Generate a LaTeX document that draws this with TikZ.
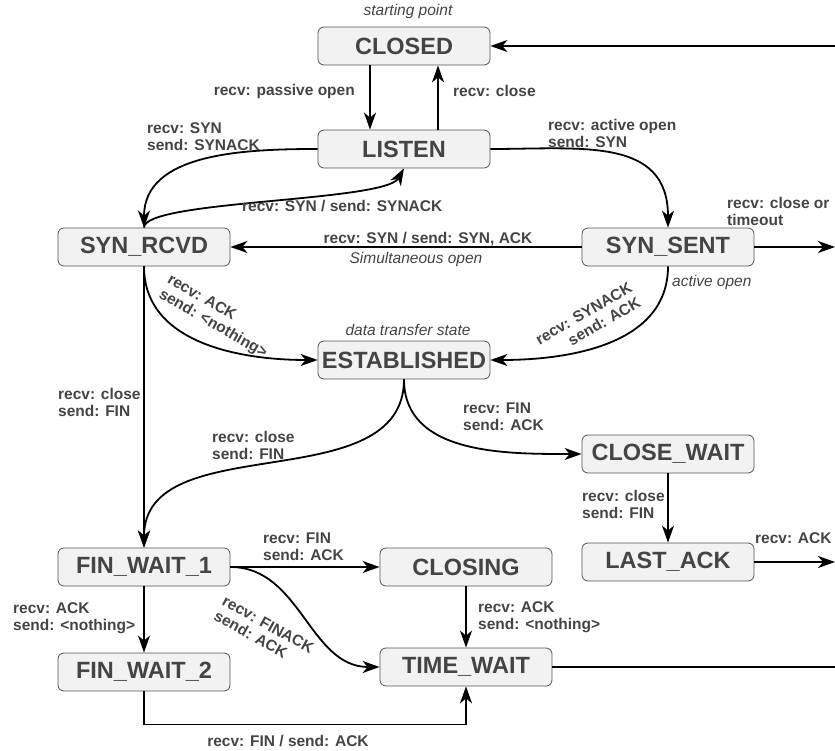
\documentclass[tikz,border=0pt]{standalone}
\usepackage{fontspec}
\setmainfont{Liberation Sans}
\usepackage{tikz}
\usetikzlibrary{arrows.meta}
\usepackage{xcolor}
\definecolor{txtgray}{HTML}{444444}
\definecolor{boxfill}{HTML}{F2F2F2}
\definecolor{boxline}{HTML}{555555}

\begin{document}
\begin{tikzpicture}[>={Stealth[length=17pt,width=12pt,inset=5pt]}, x=1pt, y=-1pt,
    state/.style={draw=boxline, fill=boxfill, rounded corners=6pt, line width=0.8pt,
        minimum width=172pt, minimum height=38pt, inner sep=0pt, text=txtgray,
        font=\bfseries\fontsize{23.5}{26}\selectfont},
    lbl/.style={inner sep=0pt, align=left, text=txtgray,
        font=\bfseries\fontsize{15.5}{17}\selectfont},
    note/.style={inner sep=0pt, text=txtgray, font=\itshape\fontsize{15.5}{17}\selectfont},
    tr/.style={->, line width=1.8pt}]
        \useasboundingbox (0,0) rectangle (835,751);
        % states
        \node (closed) [state] at (404,46) {CLOSED};
        \node (listen) [state] at (404,149) {LISTEN};
        \node (synrcvd) [state] at (144,247) {SYN\_RCVD};
        \node (synsent) [state] at (668,247) {SYN\_SENT};
        \node (estab) [state] at (404,360) {ESTABLISHED};
        \node (closewait) [state] at (668,454) {CLOSE\_WAIT};
        \node (finwaita) [state] at (144,567) {FIN\_WAIT\_1};
        \node (closing) [state] at (466,567) {CLOSING};
        \node (lastack) [state] at (668,562) {LAST\_ACK};
        \node (finwaitb) [state] at (144,672) {FIN\_WAIT\_2};
        \node (timewait) [state] at (466,667) {TIME\_WAIT};
        % ends at the right border
        \coordinate (backin) at (835,46);
        \coordinate (sentout) at (835,247);
        \coordinate (lastout) at (835,562);
        \coordinate (waitout) at (835,667);
        % transitions
        \draw [tr] ([xshift=-34pt]closed.south) -- ([xshift=-34pt]listen.north);
        \draw [tr] ([xshift=34pt]listen.north) -- ([xshift=34pt]closed.south);
        \draw [tr] (backin) -- (closed.east);
        \draw [tr] (listen.west) to[out=180, in=90] (synrcvd.north);
        \draw [tr] (synrcvd.north) .. controls (144,200) and (385,202) .. (listen.south);
        \draw [tr] (listen.east) to[out=0, in=90, looseness=1.2] (synsent.north);
        \draw [tr] (synsent.west) -- (synrcvd.east);
        \draw [tr] (synsent.east) -- (sentout);
        \draw [tr] (synrcvd.south) to[out=-90, in=180] (estab.west);
        \draw [tr] (synsent.south) to[out=-90, in=0] (estab.east);
        \draw [tr] (synrcvd.south) -- (finwaita.north);
        \draw [tr] (estab.south) to[out=-90, in=90] (finwaita.north);
        \draw [tr] (estab.south) to[out=-90, in=180] (closewait.west);
        \draw [tr] (closewait.south) -- (lastack.north);
        \draw [tr] (lastack.east) -- (lastout);
        \draw [tr] (finwaita.east) -- (closing.west);
        \draw [tr] (finwaita.east) to[out=0, in=180] (timewait.west);
        \draw [tr] (finwaita.south) -- (finwaitb.north);
        \draw [tr] (closing.south) -- (timewait.north);
        \draw [tr] (finwaitb.south) -- ++(0,33) -| (timewait.south);
        \draw [line width=1.8pt] (timewait.east) -- (waitout);
        % labels
        \node (ptstart) [note] at (408,11) {starting point};
        \node (ptdata) [note] at (408,330) {data transfer state};
        \node (ptsimul) [note] at (416,259) {Simultaneous open};
        \node (ptactive) [note, anchor=west] at (672,282) {active open};
        \node (lpassive) [lbl, anchor=east] at (355,91) {recv: passive open};
        \node (lclose) [lbl, anchor=west] at (453,91) {recv: close};
        \node (lsyn) [lbl, anchor=west] at (147,137) {recv: SYN\\send: SYNACK};
        \node (lsynback) [lbl, anchor=west] at (242,206) {recv: SYN / send: SYNACK};
        \node (lsimul) [lbl] at (428,239) {recv: SYN / send: SYN, ACK};
        \node (lactive) [lbl, anchor=west] at (548,133) {recv: active open\\send: SYN};
        \node (ltimeout) [lbl, anchor=west] at (727,211) {recv: close or\\timeout};
        \node (lackrcvd) [lbl, rotate=-30] at (217,317) {recv: ACK\\send: <nothing>};
        \node (lsynack) [lbl, align=right, rotate=30] at (588,321) {recv: SYNACK\\send: ACK};
        \node (lclosea) [lbl, anchor=west] at (58,402) {recv: close\\send: FIN};
        \node (lcloseb) [lbl, anchor=west] at (212,445) {recv: close\\send: FIN};
        \node (lfina) [lbl, anchor=west] at (463,417) {recv: FIN\\send: ACK};
        \node (lclosec) [lbl, anchor=west] at (582,504) {recv: close\\send: FIN};
        \node (lacklast) [lbl, anchor=west] at (755,538) {recv: ACK};
        \node (lfinb) [lbl, anchor=west] at (263,547) {recv: FIN\\send: ACK};
        \node (lfinack) [lbl, rotate=-29] at (264,632) {recv: FINACK\\send: ACK};
        \node (lacka) [lbl, anchor=west] at (13,618) {recv: ACK\\send: <nothing>};
        \node (lackb) [lbl, anchor=west] at (478,617) {recv: ACK\\send: <nothing>};
        \node (lfinc) [lbl] at (288,741) {recv: FIN / send: ACK};
    \end{tikzpicture}
\end{document}
